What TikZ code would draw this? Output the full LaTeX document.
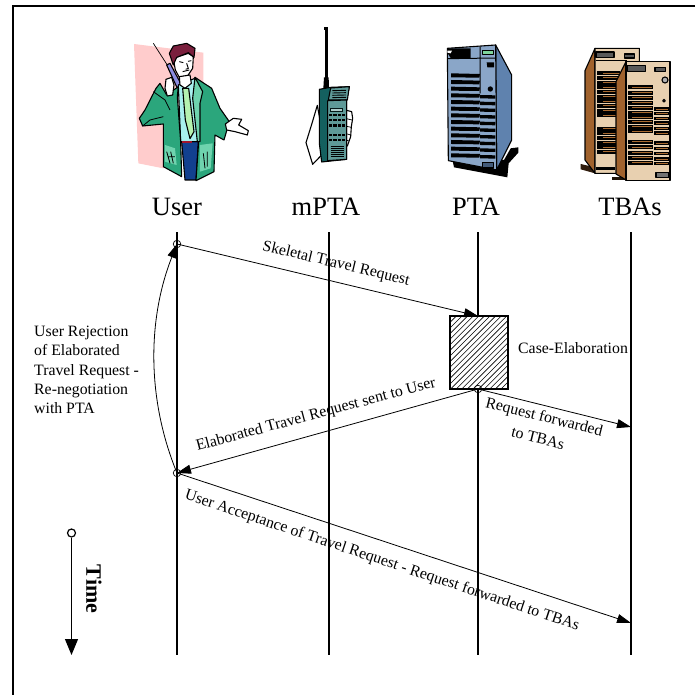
\documentclass[tikz,border=0pt]{standalone}
\usepackage{fontspec}
\setmainfont{Liberation Serif}
\usetikzlibrary{arrows.meta}
\definecolor{pinkbg}{HTML}{FFCCCC}
\definecolor{jacket}{HTML}{2BA67C}
\definecolor{jacketl}{HTML}{6FD3AE}
\definecolor{shirt}{HTML}{A8F0EE}
\definecolor{tiec}{HTML}{B5F2B0}
\definecolor{pants}{HTML}{12408F}
\definecolor{hairc}{HTML}{7A1F3D}
\definecolor{phonec}{HTML}{8C8CE0}
\definecolor{tealD}{HTML}{14605F}
\definecolor{tealL}{HTML}{5F9A98}
\definecolor{srvF}{HTML}{8AA6C8}
\definecolor{srvS}{HTML}{5F82AE}
\definecolor{begeF}{HTML}{E8D0B0}
\definecolor{brownS}{HTML}{A0622D}
\definecolor{grillO}{HTML}{A86A30}
\tikzset{
  life/.style={line width=1.8pt,black},
  msg/.style={line width=0.8pt,-{Triangle[length=14pt,width=9pt]}},
  dot/.style={circle,draw=black,line width=0.7pt,inner sep=0pt,minimum size=7.5pt},
  who/.style={font=\fontsize{26.5}{26.5}\selectfont,inner sep=0pt},
  lab/.style={font=\fontsize{15.8}{19.3}\selectfont,inner sep=0pt,align=center},
  ink/.style={draw=black,line width=1.1pt,line join=round},
}
\begin{document}
\begin{tikzpicture}[x=1pt,y=-1pt]
\useasboundingbox (0,0) rectangle (695,695);
\fill[white] (0,0) rectangle (695,695);
\draw[line width=1.4pt] (695,6) -- (13,6) -- (13,695);

% ---- User clipart
\begin{scope}[shift={(120,20)},x=0.3333pt,y=-0.3333pt]
\fill[pinkbg] (42,72) -- (250,98) -- (250,300) -- (130,445) -- (55,430) -- cycle;
\draw[line width=0.7pt] (100,70) -- (145,140);
\fill[phonec,ink] (140,135) -- (150,130) -- (182,190) -- (172,205) -- cycle;
\fill[pants,ink] (185,365) -- (235,365) -- (228,480) -- (195,480) -- cycle;
\fill[shirt,ink] (175,195) -- (225,175) -- (236,365) -- (182,365) -- cycle;
\fill[tiec,ink] (188,205) -- (206,205) -- (222,335) -- (210,356) -- (196,300) -- cycle;
\fill[hairc!70!red] (185,362) rectangle (215,370);
% jacket
\fill[jacket,ink] (175,200) -- (140,225) -- (120,190) -- (108,205) -- (75,270) -- (58,295) -- (68,318) -- (130,312) -- (130,440) -- (185,470) -- (182,365) -- (172,230) -- cycle;
\fill[jacket,ink] (225,172) -- (275,205) -- (300,265) -- (328,305) -- (312,360) -- (285,345) -- (282,455) -- (228,482) -- (236,365) -- (222,240) -- cycle;
\fill[jacketl,ink] (225,172) -- (248,215) -- (240,250) -- (240,365) -- (232,365) -- (218,235) -- cycle;
\fill[jacketl] (240,375) -- (278,370) -- (272,445) -- (240,455) -- cycle;
\fill[jacketl] (135,375) -- (165,385) -- (170,435) -- (135,425) -- cycle;
\draw[line width=0.8pt] (140,395) -- (150,430) (152,395) -- (160,430) (145,410) -- (165,410);
\draw[line width=0.8pt] (250,400) -- (255,445) (262,395) -- (262,440);
\draw[line width=0.8pt] (100,215) -- (135,240) -- (150,270) (68,318) -- (90,300) -- (130,290);
% hands
\fill[white,ink] (135,205) -- (138,178) -- (155,172) -- (162,195) -- (158,225) -- (142,228) -- cycle;
\fill[white,ink] (316,312) -- (340,295) -- (365,298) -- (356,315) -- (385,332) -- (382,345) -- (345,335) -- (320,330) -- cycle;
% face
\fill[white,ink] (160,115) -- (205,100) -- (220,110) -- (218,145) -- (200,172) -- (178,172) -- (166,150) -- cycle;
\fill[white,ink] (178,170) -- (210,165) -- (214,190) -- (195,205) -- (180,195) -- cycle;
\fill[hairc,ink] (160,135) -- (148,100) -- (160,78) -- (200,70) -- (225,85) -- (222,112) -- (205,98) -- (170,112) -- cycle;
\draw[line width=0.9pt] (178,125) -- (190,128) (204,124) -- (214,122) (200,130) -- (205,145) -- (197,148) (188,155) -- (208,150);
\end{scope}

% ---- mPTA clipart
\begin{scope}[shift={(290,20)},x=0.3333pt,y=-0.3333pt]
\fill[black] (103,20) rectangle (115,30);
\fill[black] (104,30) rectangle (113,175);
\fill[black] (102,172) -- (116,172) -- (117,205) -- (100,205) -- cycle;
\fill[white,ink] (82,256) -- (66,310) -- (48,368) -- (68,433) -- (95,405) -- (90,300) -- cycle;
\fill[white,ink] (165,270) -- (185,275) -- (188,295) -- (184,320) -- (182,350) -- (172,378) -- (160,378) -- cycle;
\draw[line width=0.7pt] (165,295) -- (186,300) (165,318) -- (184,322) (165,340) -- (182,345) (165,360) -- (176,362);
\fill[tealD,ink] (88,208) -- (122,202) -- (178,200) -- (170,240) -- (170,418) -- (95,426) -- (88,370) -- cycle;
\fill[tealL,ink] (122,204) -- (178,200) -- (172,240) -- (115,240) -- cycle;
\fill[tealL,ink] (113,242) -- (170,240) -- (170,418) -- (113,422) -- cycle;
\foreach \yy in {212,219,226,233} \draw[line width=0.9pt] (127,\yy) -- (168,\yy-1);
\fill[black!75!tealD] (120,264) rectangle (158,276);
\fill[tealL!50!white] (122,267) rectangle (156,273);
\foreach \yy in {282,296,313,342,356}
  \foreach \xx in {116,130,144,155}
    \fill[black] (\xx,\yy) rectangle +(10,7);
\foreach \yy in {380,386,392,398,404,410} \draw[line width=1pt] (122,\yy) -- (162,\yy);
\end{scope}

% ---- PTA clipart
\begin{scope}[shift={(430,30)},x=0.3333pt,y=-0.3333pt]
\fill[black] (68,392) -- (72,412) -- (232,442) -- (236,400) -- (265,368) -- (265,352) -- (242,355) -- (222,390) -- cycle;
\fill[srvS,ink] (197,45) -- (245,135) -- (245,330) -- (200,420) -- cycle;
\fill[srvF,ink] (52,55) -- (197,45) -- (200,420) -- (55,392) -- cycle;
\fill[black] (52,55) -- (122,55) -- (122,84) -- (62,84) -- (52,68) -- cycle;
\fill[white] (52,62) -- (66,62) -- (62,70) -- (52,68) -- cycle;
\draw[line width=1pt] (52,86) -- (197,84) (150,50) -- (150,190);
\fill[tiec!60!jacket,ink] (158,61) rectangle (190,73);
\fill[black] (170,97) -- (192,97) -- (192,112) -- (172,112) -- cycle;
\fill[black] (181,177) circle[radius=8];
\foreach \yy in {130,150,170,190,210,230,250,270,290,310,330,350,370}
  \fill[black] (63,\yy) -- (150,\yy+2) -- (148,\yy+13) -- (63,\yy+12) -- cycle;
\foreach \yy in {195,215,235,255,275,295,315,335,355,375}
  \fill[black] (150,\yy) -- (196,\yy+1) -- (196,\yy+11) -- (150,\yy+10) -- cycle;
\fill[srvS!70!black,ink] (157,398) rectangle (190,414);
\end{scope}

% ---- TBAs clipart
\begin{scope}[shift={(570,30)},x=0.3333pt,y=-0.3333pt]
\fill[black!70!brownS] (32,402) -- (75,412) -- (160,410) -- (160,430) -- (75,430) -- (32,418) -- cycle;
\fill[brownS,ink] (45,122) -- (75,55) -- (75,430) -- (45,390) -- cycle;
\fill[begeF,ink] (75,55) -- (208,55) -- (208,110) -- (170,110) -- (140,430) -- (75,430) -- cycle;
\fill[black!65,ink] (78,66) rectangle (132,82);
\fill[black!65,ink] (163,72) rectangle (194,84);
\draw[line width=1pt] (78,92) -- (170,92);
\foreach \yy in {124,138,152,166,180,194,208,222,236,250,290,304,318,332,346,360}
  {\fill[black] (82,\yy) rectangle (150,\yy+12);
   \fill[grillO] (100,\yy+4) rectangle (150,\yy+7);}
\fill[black] (78,410) rectangle (135,420);
\fill[black!80!brownS] (125,440) -- (170,440) -- (170,450) -- (125,450) -- cycle;
\fill[brownS,ink] (138,155) -- (168,95) -- (168,450) -- (138,432) -- cycle;
\fill[begeF,ink] (168,95) -- (300,95) -- (300,452) -- (168,452) -- cycle;
\fill[black!65,ink] (172,106) rectangle (226,124);
\fill[black!65,ink] (255,112) rectangle (287,124);
\fill[black!30,ink] (285,150) circle[radius=9];
\fill[black!60,ink] (282,212) circle[radius=4];
\foreach \yy in {166,182,198,212,228,242,256,270,284,298,330,346,362,378,392}
  {\fill[black] (174,\yy) rectangle (248,\yy+12);
   \fill[grillO] (185,\yy+4) rectangle (246,\yy+7);}
\foreach \yy in {232,246,260,274,290,304,334,350,366,382,396}
  {\fill[black] (253,\yy) rectangle (297,\yy+10);
   \fill[grillO] (258,\yy+4) rectangle (295,\yy+6);}
\fill[black!55,ink] (258,427) rectangle (297,442);
\end{scope}

% ---- actors
\node[who] (nUser) at (177,207) {User};
\node[who] (nMPTA) at (326,207) {mPTA};
\node[who] (nPTA) at (476,207) {PTA};
\node[who] (nTBA) at (630,207) {TBAs};

\coordinate (uT) at (177,232); \coordinate (uB) at (177,655);
\coordinate (mT) at (329,232); \coordinate (mB) at (329,655);
\coordinate (pT) at (478,232); \coordinate (pB) at (478,655);
\coordinate (tT) at (631,232); \coordinate (tB) at (631,655);
\draw[life] (uT) -- (uB);
\draw[life] (mT) -- (mB);
\draw[life] (pT) -- (pB);
\draw[life] (tT) -- (tB);

% ---- case elaboration box
\node[fill=white,minimum width=58pt,minimum height=73pt,inner sep=0pt,outer sep=0pt] (box) at (479,352.5) {};
\begin{scope}
\clip (box.south west) rectangle (box.north east);
\foreach \k in {0,5.6,...,168}
  \draw[line width=0.6pt] (350+\k,400) -- ++(90,-90);
\end{scope}
\draw[line width=1.6pt] (box.south west) rectangle (box.north east);

% ---- event points
\node[dot] (a) at (177,244) {};
\node[dot] (b) at (478,389) {};
\node[dot] (c) at (177,473) {};
\coordinate (d) at (478,316);
\coordinate (e) at (631,427);
\coordinate (f) at (631,623);

\draw[msg] (a.center) -- (d);
\draw[msg] (b.center) -- (e);
\draw[msg] (b.center) -- (c.center);
\draw[msg] (c.center) -- (f);
\draw[msg] (c.center) .. controls (147,400) and (147,320) .. (a.center);

% ---- labels
\node[lab,rotate=-13.4] at (336,264) {Skeletal Travel Request};
\node[lab,anchor=west] at (518,348) {Case-Elaboration};
\node[lab,rotate=15] at (316,415) {Elaborated Travel Request sent to User};
\node[lab,rotate=-14] at (544,418) {Request forwarded};
\node[lab,rotate=-14] at (538,438) {to TBAs};
\node[lab,rotate=-18.5] at (382,561) {User Acceptance of Travel Request - Request forwarded to TBAs};
\node[lab,align=left,anchor=north west] at (34,326) {User Rejection\\of Elaborated\\Travel Request -\\Re-negotiation\\with PTA};

% ---- time arrow
\node[circle,draw=black,line width=1.2pt,inner sep=0pt,minimum size=8pt] (t0) at (71.5,533) {};
\coordinate (t1) at (71.5,655);
\draw[line width=1.2pt,-{Triangle[length=16pt,width=13pt]}] (t0) -- (t1);
\node[font=\bfseries\fontsize{22}{22}\selectfont,rotate=-90,inner sep=0pt] at (94,589) {Time};
\end{tikzpicture}
\end{document}
